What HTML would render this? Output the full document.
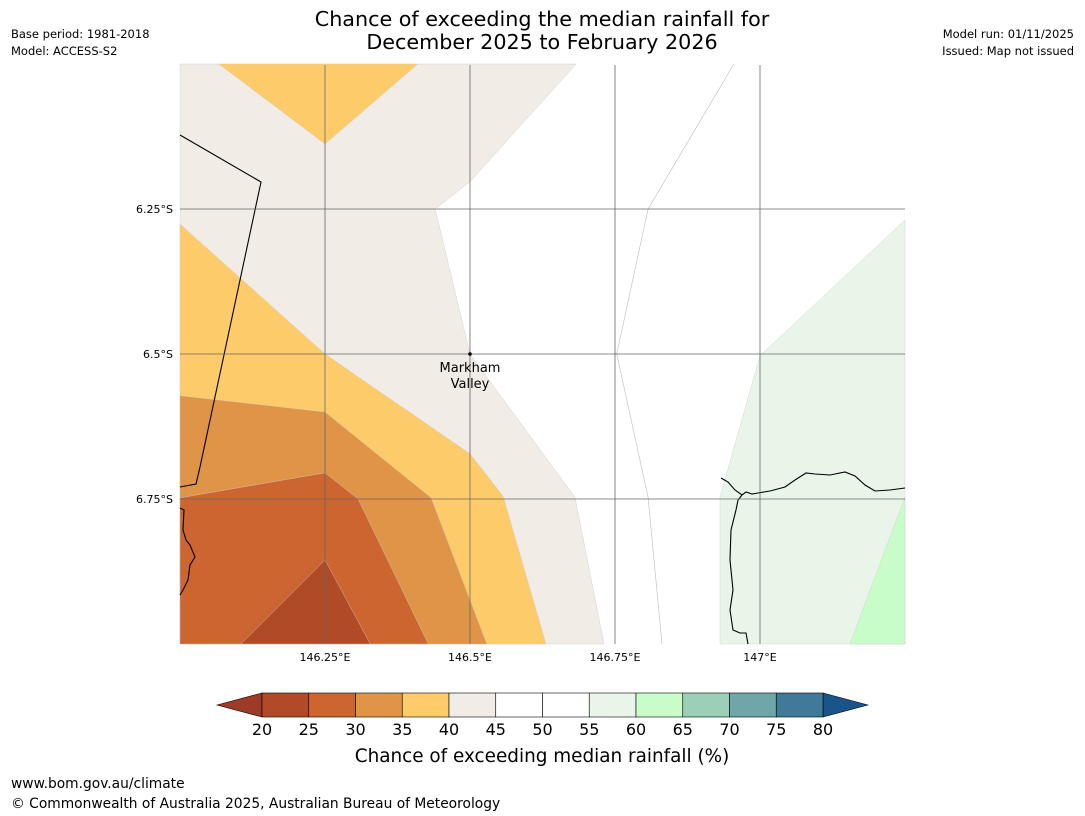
<!DOCTYPE html>
<html><head><meta charset="utf-8"><style>
body{margin:0;background:#fff;font-family:"Liberation Sans","DejaVu Sans",sans-serif;}
#wrap{position:relative;width:1085px;height:816px;overflow:hidden;background:#fff}
</style></head><body>
<div id="wrap">
<svg id="svg" width="1085" height="816" style="position:absolute;left:0;top:0;font-family:'DejaVu Sans','Liberation Sans',sans-serif">
<text x="542" y="26" font-size="20.7" text-anchor="middle">Chance of exceeding the median rainfall for</text>
<text x="542" y="49" font-size="20.7" text-anchor="middle">December 2025 to February 2026</text>
<text x="11" y="38" font-size="11.5">Base period: 1981-2018</text>
<text x="11" y="55" font-size="11.5">Model: ACCESS-S2</text>
<text x="1074" y="38" font-size="11.5" text-anchor="end">Model run: 01/11/2025</text>
<text x="1074" y="55" font-size="11.5" text-anchor="end">Issued: Map not issued</text>
<g id="map"></g>
<g id="cbar"></g>
<text x="542" y="762" font-size="18.4" text-anchor="middle">Chance of exceeding median rainfall (%)</text>
<text x="11" y="788" font-size="13.8">www.bom.gov.au/climate</text>
<text x="11" y="808" font-size="13.8">© Commonwealth of Australia 2025, Australian Bureau of Meteorology</text>
</svg>
</div>
<script>
// contour polygons, [lon, latS]
const beigeRegion=[[146,6],[146.683,6],[146.5,6.203],[146.44,6.25],[146.5,6.5],[146.681,6.747],[146.731,7],[146,7]];
const topYellow=[[146.067,6],[146.41,6],[146.25,6.138]];
const yellowRegion=[[146,6.276],[146.25,6.5],[146.5,6.672],[146.557,6.745],[146.631,7],[146,7]];
const orangeRegion=[[146,6.572],[146.25,6.6],[146.433,6.748],[146.529,7],[146,7]];
const darkOrangeRegion=[[146,6.748],[146.25,6.705],[146.307,6.75],[146.428,7],[146,7]];
const darkestRegion=[[146.105,7],[146.25,6.855],[146.328,7]];
const lightGreenRegion=[[147.25,6.269],[147,6.503],[146.931,6.747],[146.931,7],[147.25,7]];
const greenRegion=[[147.25,6.747],[147.155,7],[147.25,7]];
const whiteLine=[[146.955,6],[146.807,6.25],[146.753,6.5],[146.807,6.747],[146.831,7]];
const lonTicks=[146.25,146.5,146.75,147];
const lonLabels=["146.25°E","146.5°E","146.75°E","147°E"];
const latTicks=[6.25,6.5,6.75];
const latLabels=["6.25°S","6.5°S","6.75°S"];
const cbLevels=[20,25,30,35,40,45,50,55,60,65,70,75,80];
const cbColors=["#b14a26","#cd6530","#e09447","#fecb6a","#f1ece5","#ffffff","#ffffff","#eaf5ea","#c8fcc8","#9ccfb8","#6fa6a8","#3f7a9a"];
const NS="http://www.w3.org/2000/svg";
const X=lon=>180+(lon-146)/0.25*145;
const Y=lat=>64+(lat-6)/0.25*145;
const map=document.getElementById('map');
function mk(tag,attrs,parent){const e=document.createElementNS(NS,tag);for(const k in attrs)e.setAttribute(k,attrs[k]);parent.appendChild(e);return e;}
function pts(a){return a.map(p=>X(p[0])+','+Y(p[1])).join(' ');}
let e;
e=mk('rect',{x:180,y:65,width:725,height:579,fill:'#fff'},map);


const regions=[[beigeRegion,'#f1ece5','region-40-45'],[topYellow,'#fecb6a','region-35-40-north'],[yellowRegion,'#fecb6a','region-35-40'],[orangeRegion,'#e09447','region-30-35'],[darkOrangeRegion,'#cd6530','region-25-30'],[darkestRegion,'#b14a26','region-20-25'],[lightGreenRegion,'#eaf5ea','region-55-60'],[greenRegion,'#c8fcc8','region-60-65']];
regions.forEach(r=>{e=mk('polygon',{points:pts(r[0]),fill:r[1],stroke:'#ccc','stroke-width':0.4},map);

});
e=mk('polyline',{points:pts(whiteLine),fill:'none',stroke:'#bbb','stroke-width':0.6},map);


const coasts=["180,135 261,182 200,467 196,484 180,487","180,508 184,510 183,530 186,540 190,545 195,557 190,565 188,580 183,590 180,595","721,478 728,482 735,490 742,495 746,492 752,494 758,493 770,491 785,487 795,480 806,473 815,474 830,475 845,472 855,476 865,485 875,491 890,490 905,488","742,495 738,500 736,510 731,530 730,560 733,590 730,610 733,630 740,633 746,633 748,644"];
coasts.forEach(c=>{e=mk('polyline',{points:c,fill:'none',stroke:'#000','stroke-width':1.1},map);

});
lonTicks.forEach((v,i)=>{e=mk('line',{x1:X(v),x2:X(v),y1:65,y2:644,stroke:'#666','stroke-width':0.8},map);


e=mk('text',{x:X(v),y:661,'font-size':11,'text-anchor':'middle'},map);e.textContent=lonLabels[i];

});
latTicks.forEach((v,i)=>{e=mk('line',{x1:180,x2:905,y1:Y(v),y2:Y(v),stroke:'#666','stroke-width':0.8},map);


e=mk('text',{x:173,y:Y(v)+4,'font-size':11,'text-anchor':'end'},map);e.textContent=latLabels[i];

});
e=mk('circle',{cx:X(146.5),cy:Y(6.5),r:1.8,fill:'#000'},map);


e=mk('text',{x:X(146.5),y:372,'font-size':13,'text-anchor':'middle'},map);e.textContent='Markham';


e=mk('text',{x:X(146.5),y:388,'font-size':13,'text-anchor':'middle'},map);e.textContent='Valley';


const cb=document.getElementById('cbar');
const c0=262,c1=823,cy0=693,cy1=717;
const CX=v=>c0+(v-20)/60*(c1-c0);
e=mk('polygon',{points:`217,705 ${c0},${cy0} ${c0},${cy1}`,fill:'#9e3a28',stroke:'#000','stroke-width':0.6},cb);


e=mk('polygon',{points:`868,705 ${c1},${cy0} ${c1},${cy1}`,fill:'#1a5589',stroke:'#000','stroke-width':0.6},cb);


cbColors.forEach((c,i)=>{e=mk('rect',{x:CX(cbLevels[i]),y:cy0,width:CX(cbLevels[i+1])-CX(cbLevels[i]),height:cy1-cy0,fill:c,stroke:'#000','stroke-width':0.6},cb);

});
cbLevels.forEach(v=>{e=mk('text',{x:CX(v),y:735,'font-size':16,'text-anchor':'middle'},cb);e.textContent=v;

});
</script>
</body></html>
